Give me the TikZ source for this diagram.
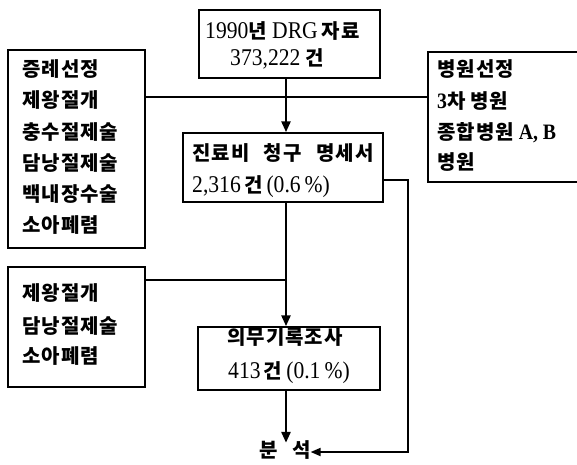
\documentclass[tikz,border=0pt]{standalone}
\usepackage{fontspec}
\setmainfont{Liberation Serif}
\newfontfamily\kr{Noto Sans CJK KR}[LetterSpace=5,WordSpace=2.6]
\newfontfamily\nm{Liberation Serif}[FakeStretch=0.9]
\newcommand\lat[1]{{\fontsize{24}{24}\selectfont\nm\mdseries #1}}
\newcommand\latb[1]{{\fontsize{22}{22}\selectfont\nm\bfseries #1}}
\usetikzlibrary{arrows.meta}
\begin{document}
\begin{tikzpicture}[x=1pt,y=-1pt,
  box/.style={draw, line width=1.5pt, inner sep=0pt},
  txt/.style={anchor=west, inner sep=0pt, text height=14pt, text depth=4pt, font=\fontsize{20}{20}\selectfont\kr\bfseries},
  conn/.style={line width=1.5pt},
  mainarrow/.style={line width=2.6pt, -{Triangle[length=11pt,width=9pt]}},
  sidearrow/.style={line width=1.8pt, -{Triangle[length=10pt,width=8pt]}},
]
\useasboundingbox (0,0) rectangle (577,464);
% boxes
\node[box, minimum width=181pt, minimum height=68pt] (top) at (289.5,44) {};
\node[box, minimum width=137pt, minimum height=198pt] (lb1) at (76.5,149) {};
\node[box, minimum width=162pt, minimum height=130pt] (rb) at (509,117) {};
\node[box, minimum width=200pt, minimum height=69pt] (b2) at (283,167.5) {};
\node[box, minimum width=137pt, minimum height=120pt] (lb2) at (76.5,327) {};
\node[box, minimum width=182pt, minimum height=63pt] (b3) at (289,358.5) {};
% texts
\node[txt] (t1) at (205,33) {\lat{1990}년\lat{ DRG}\hspace{4pt}자료};
\node[txt] (t2) at (230,60) {\lat{373,222 }건};
\node[txt] (l1a) at (22,71) {증례선정};
\node[txt] (l1b) at (22,102) {제왕절개};
\node[txt] (l1c) at (22,134) {충수절제술};
\node[txt] (l1d) at (22,165) {담낭절제술};
\node[txt] (l1e) at (22,196) {백내장수술};
\node[txt] (l1f) at (22,227) {소아폐렴};
\node[txt] (r1) at (437,71) {병원선정};
\node[txt] (r2) at (437,103) {\latb{3}차\latb{ }병원};
\node[txt] (r3) at (437,134) {종합병원\latb{ A, B}};
\node[txt] (r4) at (437,164) {병원};
\node[txt] (m1) at (192,155) {진료비 청구 명세서};
\node[txt] (m2) at (192,187) {\lat{2,316}\,건\lat{\,(0.6\,\%)}};
\node[txt] (l2a) at (22,295) {제왕절개};
\node[txt] (l2b) at (22,328) {담낭절제술};
\node[txt] (l2c) at (22,358) {소아폐렴};
\node[txt] (k1) at (227,339) {의무기록조사};
\node[txt] (k2) at (228,373) {\lat{413}\,건\lat{\,(0.1\,\%)}};
\node[txt, anchor=center] (an) at (285,452) {분\hspace{14pt}석};
% helper coordinates
\coordinate (mx) at (286,0);
\coordinate (j1) at (286,97);
\coordinate (j2) at (286,280);
\coordinate (s1) at (408,180);
\coordinate (s2) at (408,452);
% connectors
\draw[conn] (lb1.east |- j1) -- (rb.west |- j1);
\draw[mainarrow] (top.south -| mx) -- (b2.north -| mx);
\draw[conn] (lb2.east |- j2) -- (j2);
\draw[mainarrow] (b2.south -| mx) -- (b3.north -| mx);
\draw[mainarrow] (b3.south -| mx) -- (an.north -| mx);
\draw[sidearrow] (b2.east |- s1) -- (s1) -- (s2) -- (an.east);
\end{tikzpicture}
\end{document}
